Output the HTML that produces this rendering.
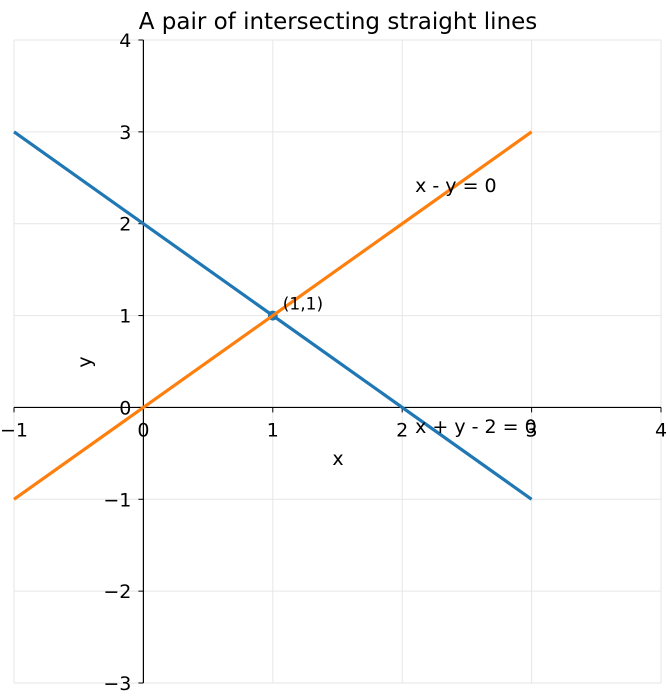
<!DOCTYPE html>
<html><head><meta charset="utf-8"><style>
body{margin:0;background:#fff}
svg text{font-family:"DejaVu Sans","Liberation Sans",sans-serif;fill:#000}
</style></head><body>
<svg width="670" height="693">
<text x="338" y="29" font-size="23" text-anchor="middle">A pair of intersecting straight lines</text>
<g id="grid"></g>
<g id="axes"></g>
<g id="series"></g>
<text x="338" y="465" font-size="19" text-anchor="middle">x</text>
<text x="91" y="362" font-size="19" text-anchor="middle" transform="rotate(-90 91 362)">y</text>
</svg>
<script>
const xTicks=[-1,0,1,2,3,4];
const yTicks=[-3,-2,-1,0,1,2,3,4];
const line1X=[-1,3]; const line1Y=[3,-1];
const line2X=[-1,3]; const line2Y=[-1,3];
const pointX=[1]; const pointY=[1];
const pointLabels=["(1,1)"];
const lineLabels=["x + y - 2 = 0","x - y = 0"];
const lineLabelX=[2.1,2.1]; const lineLabelY=[-0.2,2.42];
const X0=14,X1=661,Y0=683,Y1=40;
const sx=v=>X0+(v+1)/5*(X1-X0);
const sy=v=>Y0-(v+3)/7*(Y0-Y1);
const NS="http://www.w3.org/2000/svg";
function mk(p,t,a){const e=document.createElementNS(NS,t);for(const k in a)e.setAttribute(k,a[k]);p.appendChild(e);return e;}
const grid=document.getElementById('grid'),axes=document.getElementById('axes'),ser=document.getElementById('series');
xTicks.forEach(v=>{const l=mk(grid,'line',{x1:sx(v),x2:sx(v),y1:Y1,y2:Y0,stroke:'#e6e6e6','stroke-width':1});

});
yTicks.forEach(v=>{const l=mk(grid,'line',{x1:X0,x2:X1,y1:sy(v),y2:sy(v),stroke:'#e6e6e6','stroke-width':1});

});
const xa=mk(axes,'line',{x1:X0,x2:X1,y1:sy(0),y2:sy(0),stroke:'#000','stroke-width':1.2});


const ya=mk(axes,'line',{x1:sx(0),x2:sx(0),y1:Y1,y2:Y0,stroke:'#000','stroke-width':1.2});


xTicks.forEach(v=>{mk(axes,'line',{x1:sx(v),x2:sx(v),y1:sy(0),y2:sy(0)+5,stroke:'#000'});
const t=mk(axes,'text',{x:sx(v),y:sy(0)+29,'font-size':19,'text-anchor':'middle'});t.textContent=v<0?'\u2212'+(-v):v;

});
yTicks.forEach(v=>{mk(axes,'line',{x1:sx(0)-5,x2:sx(0),y1:sy(v),y2:sy(v),stroke:'#000'});
const t=mk(axes,'text',{x:sx(0)-12,y:sy(v)+7,'font-size':19,'text-anchor':'end'});t.textContent=v<0?'\u2212'+(-v):v;

});
const l1=mk(ser,'line',{x1:sx(line1X[0]),y1:sy(line1Y[0]),x2:sx(line1X[1]),y2:sy(line1Y[1]),stroke:'#1f77b4','stroke-width':3.2});


const pt=mk(ser,'circle',{cx:sx(pointX[0]),cy:sy(pointY[0]),r:5,fill:'#1f77b4'});


const l2=mk(ser,'line',{x1:sx(line2X[0]),y1:sy(line2Y[0]),x2:sx(line2X[1]),y2:sy(line2Y[1]),stroke:'#ff7f0e','stroke-width':3.2});


const pl=mk(ser,'text',{x:sx(pointX[0])+10,y:sy(pointY[0])-6,'font-size':17});pl.textContent=pointLabels[0];


lineLabels.forEach((s,i)=>{const t=mk(ser,'text',{x:sx(lineLabelX[i]),y:sy(lineLabelY[i])+7,'font-size':19});t.textContent=s;

});
</script>
</body></html>
